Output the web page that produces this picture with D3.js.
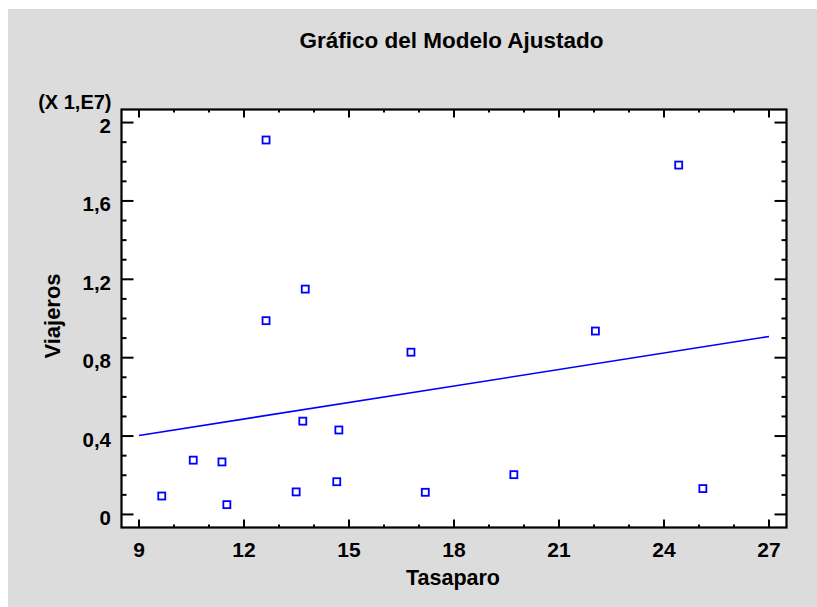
<!DOCTYPE html>
<html>
<head>
<meta charset="utf-8">
<script src="https://cdn.jsdelivr.net/npm/d3@7"></script>
<style>
  html, body { margin: 0; padding: 0; background: #ffffff; }
  svg { display: block; }
  text { font-family: "Liberation Sans", Arial, sans-serif; font-weight: bold; fill: #000; }
</style>
</head>
<body>
<svg id="chart" width="817" height="607"></svg>
<script>
// ---- data ----
const tasaparo = [9.65, 10.55, 11.37, 11.51, 12.63, 12.63, 13.49, 13.68, 13.75, 14.65, 14.71, 16.77, 17.18, 19.71, 22.04, 24.42, 25.11];
const viajeros = [0.094, 0.277, 0.268, 0.05, 1.911, 0.989, 0.115, 0.476, 1.150, 0.167, 0.431, 0.828, 0.113, 0.203, 0.936, 1.783, 0.132]; // x 1E7
const fitX = [9, 27];
const fitY = [0.403, 0.908];
const xTicks = [9, 12, 15, 18, 21, 24, 27];
const xMinorTicks = d3.range(9, 28, 1);
const yTicks = [0, 0.4, 0.8, 1.2, 1.6, 2];
const yTickLabels = ["0", "0,4", "0,8", "1,2", "1,6", "2"];
const yMinorTicks = d3.range(0, 21, 1).map(d => d / 10);
const title = "Gráfico del Modelo Ajustado";
const xTitle = "Tasaparo";
const yTitle = "Viajeros";
const yScaleNote = "(X 1,E7)";

// ---- layout ----
const svg = d3.select("#chart");
const L = 121.5, R = 786.5, T = 109.5, B = 527.5;

svg.append("rect").attr("x", 8).attr("y", 9).attr("width", 817 - 8).attr("height", 607 - 9).attr("fill", "#dcdcdc");
svg.append("rect").attr("x", L).attr("y", T).attr("width", R - L).attr("height", B - T).attr("fill", "#ffffff");

const x = d3.scaleLinear().domain([8.5, 27.5]).range([L, R]);
const y = d3.scaleLinear().domain([-1 / 15, 2 + 1 / 15]).range([B, T]);

// ticks (inward, on all four sides)
const tickG = svg.append("g").attr("stroke", "#000").attr("stroke-width", 2);
xMinorTicks.forEach(v => {
  const major = xTicks.includes(v);
  const len = major ? 8 : 3;
  tickG.append("line").attr("x1", x(v)).attr("x2", x(v)).attr("y1", B).attr("y2", B - len);
  tickG.append("line").attr("x1", x(v)).attr("x2", x(v)).attr("y1", T).attr("y2", T + len);
});
yMinorTicks.forEach(v => {
  const major = yTicks.some(t => Math.abs(t - v) < 1e-9);
  const len = major ? 12 : 5;
  tickG.append("line").attr("x1", L).attr("x2", L + len).attr("y1", y(v)).attr("y2", y(v));
  tickG.append("line").attr("x1", R).attr("x2", R - len).attr("y1", y(v)).attr("y2", y(v));
});

// frame
svg.append("rect").attr("x", L).attr("y", T).attr("width", R - L).attr("height", B - T)
  .attr("fill", "none").attr("stroke", "#000").attr("stroke-width", 2.2);

// tick labels
svg.append("g").selectAll("text").data(xTicks).join("text")
  .attr("x", d => x(d)).attr("y", 557).attr("text-anchor", "middle")
  .style("font-size", "21px").text(d => d);
svg.append("g").selectAll("text").data(yTicks).join("text")
  .attr("x", 111).attr("y", d => y(d) + 10.5).attr("text-anchor", "end")
  .style("font-size", "20.5px").text((d, i) => yTickLabels[i]);

// titles
svg.append("text").attr("x", 451.5).attr("y", 47.5).attr("text-anchor", "middle")
  .style("font-size", "22.5px").text(title);
svg.append("text").attr("x", 453).attr("y", 585).attr("text-anchor", "middle")
  .style("font-size", "21.5px").text(xTitle);
svg.append("text").attr("transform", "translate(60,316) rotate(-90)").attr("text-anchor", "middle")
  .style("font-size", "22px").text(yTitle);
svg.append("text").attr("x", 111.5).attr("y", 109).attr("text-anchor", "end")
  .style("font-size", "20px").text(yScaleNote);

// fitted line
const line = d3.line().x(d => x(d[0])).y(d => y(d[1]));
svg.append("path").datum(fitX.map((v, i) => [v, fitY[i]]))
  .attr("d", line).attr("fill", "none").attr("stroke", "#0000ff").attr("stroke-width", 1.6);

// points (open squares)
const s = 7;
svg.append("g").selectAll("rect").data(tasaparo.map((v, i) => [v, viajeros[i]])).join("rect")
  .attr("x", d => x(d[0]) - s / 2).attr("y", d => y(d[1]) - s / 2)
  .attr("width", s).attr("height", s)
  .attr("fill", "none").attr("stroke", "#0000ff").attr("stroke-width", 1.8);
</script>
</body>
</html>
